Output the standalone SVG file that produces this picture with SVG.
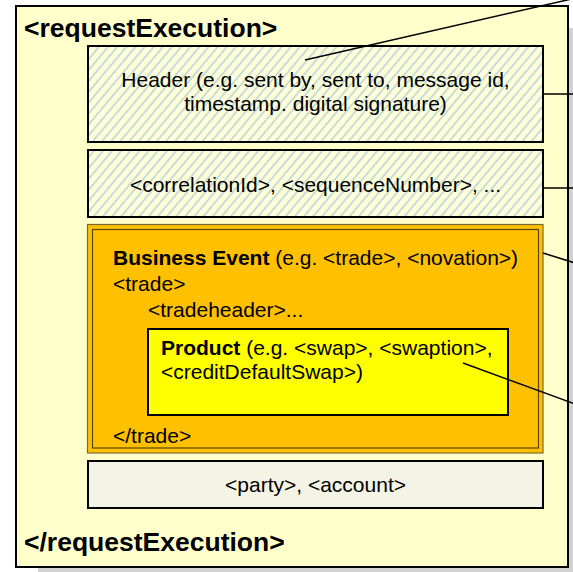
<svg xmlns="http://www.w3.org/2000/svg" width="573" height="572" viewBox="0 0 573 572">
<defs>
<pattern id="hatch" patternUnits="userSpaceOnUse" width="7" height="7" patternTransform="rotate(40)">
<rect x="0" y="0" width="7" height="7" fill="#FFFFDA"/>
<rect x="0" y="0" width="1.8" height="7" fill="#C2D9D8"/>
</pattern>
</defs>
<style>
text{font-family:"Liberation Sans",Arial,sans-serif;font-size:21px;fill:#000}
.t{font-size:26.5px;font-weight:bold}
.b{font-weight:bold}
.box{stroke:#000;stroke-width:2}
.c{text-anchor:middle}
.ln{stroke:#000;stroke-width:1.5;fill:none}
</style>
<rect x="38" y="28" width="560" height="560" fill="#D2D2D2"/>
<g id="requestExecution">
<rect x="16" y="6" width="552" height="561" fill="#FFFFCC" class="box"/>
<text x="24" y="37" class="t">&lt;requestExecution&gt;</text>
<text x="24" y="551" class="t">&lt;/requestExecution&gt;</text>
</g>
<g id="header">
<rect x="88" y="46" width="455" height="96" fill="url(#hatch)" class="box"/>
<text x="315.5" y="87" class="c">Header (e.g. sent by, sent to, message id,</text>
<text x="315.5" y="111" class="c">timestamp. digital signature)</text>
</g>
<g id="correlation">
<rect x="88" y="150" width="455" height="67" fill="url(#hatch)" class="box"/>
<text x="315.5" y="192" class="c">&lt;correlationId&gt;, &lt;sequenceNumber&gt;, ...</text>
</g>
<g id="businessEvent">
<rect x="87.5" y="224.5" width="455.5" height="228.5" fill="#FFC000" stroke="#7A6A30" stroke-width="1.2"/>
<rect x="92.5" y="229.5" width="446" height="218.5" fill="none" stroke="#5A4600" stroke-width="1.2"/>
<text x="113" y="265"><tspan class="b">Business Event</tspan> (e.g. &lt;trade&gt;, &lt;novation&gt;)</text>
<text x="113" y="291">&lt;trade&gt;</text>
<text x="148" y="317">&lt;tradeheader&gt;...</text>
<text x="113" y="443">&lt;/trade&gt;</text>
</g>
<g id="product">
<rect x="148" y="329" width="360" height="86" fill="#FFFF00" class="box"/>
<text x="161" y="355"><tspan class="b">Product</tspan> (e.g. &lt;swap&gt;, &lt;swaption&gt;,</text>
<text x="161" y="379">&lt;creditDefaultSwap&gt;)</text>
</g>
<g id="party">
<rect x="88" y="461" width="455" height="47" fill="#F3F3E6" class="box"/>
<text x="315.5" y="492" class="c">&lt;party&gt;, &lt;account&gt;</text>
</g>
<g id="connectors">
<line x1="305" y1="60" x2="575" y2="-1.8" class="ln"/>
<line x1="543" y1="94" x2="575" y2="94" class="ln"/>
<line x1="543" y1="188" x2="575" y2="188" class="ln"/>
<line x1="543" y1="253" x2="575" y2="263" class="ln"/>
<line x1="463" y1="363" x2="575" y2="404" class="ln"/>
</g>
</svg>
